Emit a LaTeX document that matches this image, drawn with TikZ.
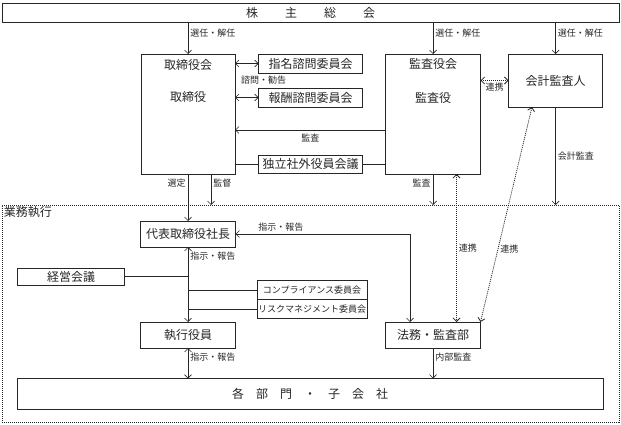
\documentclass[tikz,border=0pt]{standalone}
\usepackage{fontspec}
\setmainfont{Noto Sans CJK JP}
\usepackage{tikz}
\usetikzlibrary{arrows.meta}
\tikzstyle{arrow} = [-{Straight Barb[length=3.5pt,width=7pt]}]
\tikzstyle{twoway} = [{Straight Barb[length=3.5pt,width=7pt]}-{Straight Barb[length=3.5pt,width=7pt]}]
\tikzstyle{box} = [draw, line width=0.8pt, inner sep=0pt, outer sep=0pt, font=\fontsize{12}{14}\selectfont]
\tikzstyle{lbl} = [inner sep=2pt, font=\fontsize{9}{10}\selectfont]
\tikzstyle{dotline} = [line width=0.8pt, dash pattern=on 1pt off 1pt]
\newcommand{\kgap}{\hspace{27pt}}

\begin{document}
\begin{tikzpicture}[x=1pt, y=-1pt, node distance=122.5pt, line width=0.7pt, color=black!85]
		\useasboundingbox (0,0) rectangle (621,425);

		\node (meeting) [box, minimum width=617pt, minimum height=19pt] at (310.5,12.5) {株\kgap 主\kgap 総\kgap 会};
		\node (board) [box, minimum width=94pt, minimum height=120pt,
			label={[anchor=center, yshift=-11pt, font=\fontsize{12}{14}\selectfont]north:取締役会},
			label={[anchor=center, yshift=-43pt, font=\fontsize{12}{14}\selectfont]north:取締役}] at (188,114) {};
		\node (nomination) [box, right of=board, yshift=50.5pt, minimum width=104pt, minimum height=19pt] {指名諮問委員会};
		\node (remuneration) [box, right of=board, yshift=16.5pt, minimum width=104pt, minimum height=19pt] {報酬諮問委員会};
		\node (consult) [lbl, right of=board, xshift=-47pt, yshift=33.5pt] {諮問・勧告};
		\node (outside) [box, right of=board, yshift=-50pt, minimum width=104pt, minimum height=18pt] {独立社外役員会議};
		\node (kansayaku) [box, right of=board, xshift=122.5pt, minimum width=95pt, minimum height=120pt,
			label={[anchor=center, yshift=-10pt, font=\fontsize{12}{14}\selectfont]north:監査役会},
			label={[anchor=center, yshift=-44pt, font=\fontsize{12}{14}\selectfont]north:監査役}] {};
		\node (auditor) [box, right of=kansayaku, yshift=33.5pt, minimum width=94pt, minimum height=53pt] {会計監査人};

		\node (area) [draw, dotline, inner sep=0pt, outer sep=0pt, minimum width=617pt, minimum height=217pt] at (310.5,313.5) {};
		\node (areatitle) [anchor=north west, inner sep=1.5pt, font=\fontsize{12}{14}\selectfont] at (area.north west) {業務執行};
		\node (president) [box, below of=board, yshift=2.5pt, minimum width=95pt, minimum height=26pt] {代表取締役社長};
		\node (officers) [box, below of=president, yshift=21.5pt, minimum width=95pt, minimum height=26pt] {執行役員};
		\node (legal) [box, right of=officers, xshift=122.5pt, minimum width=95pt, minimum height=26pt] {法務・監査部};
		\node (keiei) [box, left of=president, xshift=5.5pt, yshift=-42.5pt, minimum width=107pt, minimum height=17pt] {経営会議};
		\node (compliance) [box, right of=president, xshift=1.5pt, yshift=-56pt, minimum width=110pt, minimum height=19pt, font=\fontsize{9}{11}\selectfont] {コンプライアンス委員会};
		\node (risk) [box, anchor=north, minimum width=110pt, minimum height=19pt, font=\fontsize{9}{11}\selectfont] at (compliance.south) {リスクマネジメント委員会};
		\node (depts) [box, minimum width=586pt, minimum height=31pt] at (310,394) {各　部　門　・　子　会　社};

		\draw [arrow] (meeting.south -| board.north) -- (board.north) node [lbl, right, pos=0.35] {選任・解任};
		\draw [arrow] (meeting.south -| kansayaku.north) -- (kansayaku.north) node [lbl, right, pos=0.35] {選任・解任};
		\draw [arrow] (meeting.south -| auditor.north) -- (auditor.north) node [lbl, right, pos=0.35] {選任・解任};
		\draw [twoway] (board.east |- nomination) -- (nomination.west);
		\draw [twoway] (board.east |- remuneration) -- (remuneration.west);
		\draw [arrow] ([yshift=-16pt]kansayaku.west) -- ([yshift=-16pt]board.east) node [lbl, below, midway, yshift=-2pt] {監査};
		\draw (board.east |- outside) -- (outside.west);
		\draw (outside.east) -- (kansayaku.west |- outside);
		\draw [twoway, dotline] (kansayaku.east |- auditor) -- (auditor.west) node [lbl, below, midway] {連携};

		\draw [arrow] (kansayaku.south) -- (kansayaku.south |- area.north) node [lbl, left, pos=0.3] {監査};
		\draw [arrow] (auditor.south) -- (auditor.south |- area.north) node [lbl, right, midway] {会計監査};
		\draw [twoway, dotline] ([xshift=23.5pt]kansayaku.south) -- ([xshift=23.5pt]legal.north) node [lbl, right, midway] {連携};
		\draw [twoway, dotline] ([xshift=-23.5pt]auditor.south) -- (legal.north east) node [lbl, right, pos=0.66] {連携};

		\draw [arrow] (board.south) -- (president.north) node [lbl, left, pos=0.2] {選定};
		\draw [arrow] ([xshift=23pt]board.south) -- ([xshift=23pt]board.south |- area.north) node [lbl, right, pos=0.3] {監督};
		\draw [twoway] ([xshift=-23pt]legal.north) |- (president.east) node [lbl, above, pos=0.87] {指示・報告};
		\draw [twoway] (president.south) -- (officers.north) node [lbl, right, pos=0.12] {指示・報告};
		\draw (keiei.east) -- (keiei -| president);
		\draw (compliance.west) -- (compliance -| president);
		\draw (risk.west) -- (risk -| president);
		\draw [twoway] (officers.south) -- (officers |- depts.north) node [lbl, right, pos=0.3] {指示・報告};
		\draw [arrow] (legal.south) -- (legal |- depts.north) node [lbl, right, pos=0.3] {内部監査};
	\end{tikzpicture}
\end{document}
